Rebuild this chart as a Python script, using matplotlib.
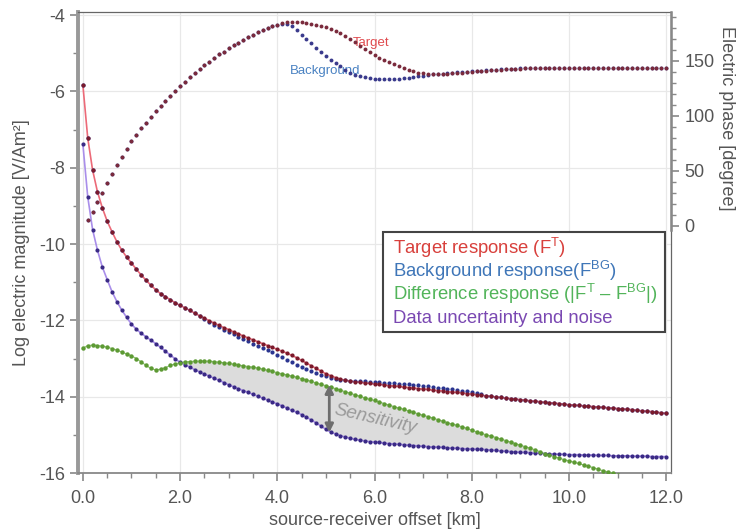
import numpy as np
import matplotlib
matplotlib.use("Agg")
import matplotlib.pyplot as plt
from matplotlib.patches import Rectangle
from matplotlib.ticker import MultipleLocator, FormatStrFormatter

plt.rcParams['font.family'] = ['Liberation Sans', 'DejaVu Sans']
plt.rcParams['mathtext.fontset'] = 'custom'
plt.rcParams['mathtext.rm'] = 'Liberation Sans'
plt.rcParams['mathtext.it'] = 'Liberation Sans:italic'
plt.rcParams['axes.unicode_minus'] = False

# ---------------- data ----------------
offset_km = np.round(np.arange(121) * 0.1, 1)

target_mag = [
    -5.83, -7.22, -8.06, -8.63, -9.05, -9.40, -9.68, -9.94, -10.16, -10.34,
    -10.50, -10.66, -10.81, -10.95, -11.08, -11.20, -11.30, -11.38, -11.46, -11.54,
    -11.61, -11.67, -11.74, -11.81, -11.88, -11.94, -12.01, -12.07, -12.13, -12.19,
    -12.24, -12.30, -12.35, -12.41, -12.46, -12.51, -12.56, -12.61, -12.66, -12.71,
    -12.76, -12.81, -12.86, -12.92, -12.98, -13.05, -13.12, -13.19, -13.26, -13.33,
    -13.40, -13.45, -13.50, -13.54, -13.57, -13.59, -13.61, -13.62, -13.64, -13.65,
    -13.67, -13.68, -13.69, -13.71, -13.72, -13.73, -13.75, -13.76, -13.77, -13.79,
    -13.80, -13.81, -13.83, -13.84, -13.85, -13.87, -13.88, -13.89, -13.90, -13.92,
    -13.93, -13.95, -13.96, -13.98, -13.99, -14.01, -14.02, -14.04, -14.05, -14.06,
    -14.08, -14.09, -14.11, -14.12, -14.13, -14.15, -14.16, -14.17, -14.18, -14.20,
    -14.21, -14.22, -14.23, -14.24, -14.25, -14.26, -14.27, -14.28, -14.29, -14.30,
    -14.31, -14.32, -14.33, -14.34, -14.36, -14.37, -14.38, -14.39, -14.41, -14.42,
    -14.44]

background_mag = [
    -5.83, -7.22, -8.06, -8.63, -9.05, -9.40, -9.68, -9.94, -10.16, -10.34,
    -10.50, -10.66, -10.81, -10.95, -11.08, -11.20, -11.30, -11.38, -11.46, -11.54,
    -11.61, -11.67, -11.74, -11.81, -11.88, -11.96, -12.04, -12.11, -12.18, -12.25,
    -12.31, -12.37, -12.43, -12.49, -12.55, -12.61, -12.67, -12.72, -12.78, -12.84,
    -12.90, -12.96, -13.03, -13.10, -13.16, -13.22, -13.28, -13.33, -13.38, -13.42,
    -13.46, -13.50, -13.53, -13.55, -13.57, -13.58, -13.59, -13.59, -13.60, -13.61,
    -13.62, -13.62, -13.63, -13.64, -13.65, -13.66, -13.67, -13.68, -13.69, -13.70,
    -13.71, -13.73, -13.74, -13.76, -13.77, -13.79, -13.80, -13.82, -13.84, -13.86,
    -13.88, -13.91, -13.94, -13.97, -13.99, -14.01, -14.02, -14.04, -14.05, -14.06,
    -14.08, -14.09, -14.11, -14.12, -14.13, -14.15, -14.16, -14.17, -14.18, -14.20,
    -14.21, -14.22, -14.23, -14.24, -14.25, -14.26, -14.27, -14.28, -14.29, -14.30,
    -14.31, -14.32, -14.33, -14.34, -14.36, -14.37, -14.38, -14.39, -14.41, -14.42,
    -14.44]

noise_mag = [
    -7.38, -8.76, -9.62, -10.16, -10.60, -10.93, -11.25, -11.51, -11.73, -11.92,
    -12.10, -12.23, -12.34, -12.43, -12.52, -12.61, -12.71, -12.81, -12.91, -13.01,
    -13.10, -13.16, -13.23, -13.29, -13.35, -13.41, -13.46, -13.52, -13.57, -13.63,
    -13.69, -13.74, -13.79, -13.84, -13.89, -13.94, -13.99, -14.04, -14.09, -14.14,
    -14.19, -14.24, -14.30, -14.36, -14.41, -14.47, -14.54, -14.61, -14.69, -14.77,
    -14.86, -14.93, -14.98, -15.02, -15.06, -15.09, -15.12, -15.14, -15.16, -15.18,
    -15.19, -15.20, -15.22, -15.23, -15.24, -15.25, -15.26, -15.27, -15.28, -15.29,
    -15.30, -15.31, -15.32, -15.32, -15.33, -15.34, -15.35, -15.35, -15.36, -15.37,
    -15.37, -15.38, -15.38, -15.39, -15.40, -15.41, -15.42, -15.43, -15.44, -15.45,
    -15.46, -15.46, -15.47, -15.48, -15.48, -15.49, -15.50, -15.50, -15.51, -15.51,
    -15.52, -15.52, -15.52, -15.53, -15.53, -15.53, -15.54, -15.54, -15.54, -15.55,
    -15.55, -15.55, -15.55, -15.56, -15.56, -15.56, -15.56, -15.57, -15.57, -15.57,
    -15.57]

difference_mag = [
    -12.73, -12.66, -12.65, -12.66, -12.68, -12.70, -12.74, -12.78, -12.83, -12.88,
    -12.93, -13.00, -13.09, -13.18, -13.26, -13.30, -13.28, -13.24, -13.18, -13.14,
    -13.11, -13.09, -13.08, -13.07, -13.07, -13.07, -13.07, -13.08, -13.10, -13.11,
    -13.13, -13.15, -13.17, -13.19, -13.21, -13.23, -13.25, -13.28, -13.31, -13.34,
    -13.37, -13.40, -13.43, -13.46, -13.49, -13.53, -13.56, -13.60, -13.64, -13.68,
    -13.71, -13.75, -13.79, -13.83, -13.87, -13.91, -13.95, -13.99, -14.03, -14.07,
    -14.10, -14.14, -14.18, -14.22, -14.26, -14.30, -14.33, -14.37, -14.41, -14.45,
    -14.49, -14.52, -14.56, -14.60, -14.64, -14.68, -14.72, -14.75, -14.79, -14.83,
    -14.88, -14.92, -14.96, -15.00, -15.03, -15.07, -15.11, -15.15, -15.19, -15.23,
    -15.27, -15.31, -15.35, -15.39, -15.44, -15.49, -15.53, -15.57, -15.61, -15.65,
    -15.68, -15.72, -15.75, -15.79, -15.82, -15.86, -15.90, -15.94, -15.97, -16.01,
    -16.05]

# phase series start at 0.1 km
target_phase = [
    5.5, 13, 22, 30, 39, 47, 55, 63, 70,
    77, 83, 89, 94, 99.5, 104.5, 109, 114, 118, 122.5,
    127, 131, 135, 139, 142.5, 146.5, 149.5, 152.5, 156, 158.5,
    161.5, 164.5, 166.5, 169, 171.5, 174, 176, 178, 180, 181.5,
    183, 184.2, 185, 185.6, 185.7, 185.4, 184.8, 184, 183, 182,
    180.8, 179, 177, 175, 173, 170, 167, 164, 161, 158,
    155.5, 153, 151, 149, 147, 145, 143.5, 142, 140.5, 139.5,
    138.8, 138.3, 138.1, 138.1, 138.2, 138.4, 138.7, 139, 139.4, 139.8,
    140.2, 140.6, 141, 141.3, 141.6, 141.9, 142.2, 142.4, 142.6, 142.8,
    143.0, 143.2, 143.3, 143.4, 143.5, 143.6, 143.7, 143.7, 143.8, 143.8,
    143.8, 143.8, 143.8, 143.7, 143.7, 143.7, 143.8, 143.8, 143.7, 143.7,
    143.7, 143.8, 143.8, 143.7, 143.7, 143.7, 143.8, 143.7, 143.7, 143.7,
    143.7]

background_phase = [
    5.5, 13, 22, 30, 39, 47, 55, 63, 70,
    77, 83, 89, 94, 99.5, 104.5, 109, 114, 118, 122.5,
    127, 131, 135, 139, 142.5, 146.5, 149.5, 152.5, 156, 158.5,
    161.5, 164.5, 166.5, 169, 171.5, 174, 176, 178, 180, 181.5,
    182.7, 183.4, 183.6, 181.5, 178, 174, 170, 166, 162, 158,
    154.5, 151, 148, 145, 142, 139.5, 137.5, 136, 135, 134.3,
    133.8, 133.6, 133.5, 133.5, 133.6, 133.8, 134.2, 134.8, 135.4, 136,
    136.6, 137.2, 137.7, 138.2, 138.6, 139, 139.3, 139.6, 139.9, 140.2,
    140.5, 140.8, 141.1, 141.4, 141.7, 142, 142.3, 142.6, 142.8, 143.0,
    143.2, 143.3, 143.4, 143.5, 143.6, 143.7, 143.7, 143.8, 143.8, 143.8,
    143.8, 143.8, 143.8, 143.7, 143.7, 143.7, 143.8, 143.8, 143.7, 143.7,
    143.7, 143.8, 143.8, 143.7, 143.7, 143.7, 143.8, 143.7, 143.7, 143.7,
    143.7]

legend_labels = [
    "Target response (F$^{\\mathrm{T}}$)",
    "Background response(F$^{\\mathrm{BG}}$)",
    "Difference response (|F$^{\\mathrm{T}}$ \u2013 F$^{\\mathrm{BG}}$|)",
    "Data uncertainty and noise",
]
legend_colors = ["#d8403c", "#3f76b8", "#52b45a", "#7a48b2"]

# ---------------- figure ----------------
W, H = 739, 529
AX_L, AX_R, AX_T, AX_B = 78, 671, 12, 473
fig = plt.figure(figsize=(W/100, H/100), dpi=100)
ax = fig.add_axes([AX_L/W, 1 - AX_B/H, (AX_R-AX_L)/W, (AX_B-AX_T)/H])
ax2 = ax.twinx()


def ax_xy(px, py):
    """pixel position -> axes fraction"""
    return (px - AX_L) / (AX_R - AX_L), (AX_B - py) / (AX_B - AX_T)


x = np.asarray(offset_km)
x_phase = x[1:]
x_diff = x[:len(difference_mag)]

tm = np.asarray(target_mag)
bm = np.asarray(background_mag)
nm = np.asarray(noise_mag)
dm = np.asarray(difference_mag)

# sensitivity region
nm_diff = nm[:len(dm)]
ax.fill_between(x_diff, dm, nm_diff, where=dm >= nm_diff, interpolate=True,
                color="#dcdcdc", zorder=1, linewidth=0)

# magnitude curves
ax.plot(x, tm, '-', color="#ec6a78", lw=1.2, zorder=3)
ax.plot(x, nm, '-', color="#a98eea", lw=1.2, zorder=3)
ax.plot(x_diff, dm, '-', color="#8cc46c", lw=0.8, zorder=3)
ax.plot(x, bm, 'o', color="#2b3590", ms=3.0, mew=0, zorder=4)
ax.plot(x, tm, 'o', color="#7a1a2c", ms=3.0, mew=0, zorder=5)
ax.plot(x, nm, 'o', color="#3a2a85", ms=3.0, mew=0, zorder=4)
ax.plot(x_diff, dm, 'o', color="#5d9a34", ms=3.2, mew=0, zorder=4)

# phase curves
ax2.plot(x_phase, background_phase, 'o', color="#3a3a8c", ms=2.8, mew=0, zorder=4)
ax2.plot(x_phase, target_phase, 'o', color="#7a2a3c", ms=2.8, mew=0, zorder=5)

# limits
ax.set_xlim(-0.1, 12.1)
ax.set_ylim(-16, -3.92)
ax2.set_ylim(-224.5, 194.5)

# grid
ax.set_axisbelow(True)
ax.grid(True, which='major', color="#e8e8e8", lw=0.9)

# ticks
tick_col = "#555555"
ax.xaxis.set_major_locator(MultipleLocator(2))
ax.xaxis.set_minor_locator(MultipleLocator(0.5))
ax.xaxis.set_major_formatter(FormatStrFormatter('%.1f'))
ax.yaxis.set_major_locator(MultipleLocator(2))
ax.yaxis.set_minor_locator(MultipleLocator(1))
ax.yaxis.set_major_formatter(FormatStrFormatter('%d'))
ax.tick_params(axis='both', which='major', length=6, width=1.2, colors="#888888",
               labelcolor=tick_col, labelsize=13)
ax.tick_params(axis='both', which='minor', length=3.5, width=1.0, colors="#888888")
ax.tick_params(axis='x', pad=6)

ax2.set_yticks([0, 50, 100, 150])
ax2.set_yticks(np.arange(0, 191, 10), minor=True)
ax2.tick_params(axis='y', which='major', length=6, width=1.2, colors="#888888",
                labelcolor=tick_col, labelsize=13)
ax2.tick_params(axis='y', which='minor', length=3.5, width=1.0, colors="#888888")

# spines
for s in ['top', 'right']:
    ax.spines[s].set_color("#666666")
    ax.spines[s].set_linewidth(0.9)
ax.spines['left'].set_color("#999999")
ax.spines['left'].set_linewidth(2.8)
ax.spines['bottom'].set_color("#888888")
ax.spines['bottom'].set_linewidth(1.3)
for s in ['top', 'left', 'bottom']:
    ax2.spines[s].set_visible(False)
ax2.spines['right'].set_color("#888888")
ax2.spines['right'].set_linewidth(1.8)
ax2.spines['right'].set_bounds(-4, 194.5)

# labels
ax.set_xlabel("source-receiver offset [km]", fontsize=13, color=tick_col, labelpad=4)
ax.set_ylabel("Log electric magnitude [V/Am\u00b2]", fontsize=13, color=tick_col, labelpad=6)
ax2.set_ylabel("Electric phase [degree]", fontsize=13, color=tick_col, rotation=270,
               va='center', ha='center')
ax2.yaxis.set_label_coords(*ax_xy(726, 118))

# in-plot annotations
ax.text(5.92, -4.72, "Target", color="#e04a4e", fontsize=9.5, ha='center', va='center', zorder=6)
ax.text(4.99, -5.47, "Background", color="#4a82c2", fontsize=9.5, ha='center', va='center', zorder=6)
ax.annotate("", xy=(5.07, -13.69), xytext=(5.07, -14.94),
            arrowprops=dict(arrowstyle='<|-|>', color="#6e6e6e", lw=2.0,
                            mutation_scale=12, shrinkA=0, shrinkB=0), zorder=6)
ax.text(6.02, -14.6, "Sensitivity", color="#9a9a9a", fontsize=13.5, style='italic',
        rotation=-13, ha='center', va='center', zorder=6)

# legend box (drawn as frame + coloured texts)
bx0, by0 = ax_xy(383, 332)
bx1, by1 = ax_xy(665, 232)
ax2.add_patch(Rectangle((bx0, by0), bx1 - bx0, by1 - by0, transform=ax2.transAxes,
                        facecolor='white', edgecolor="#444444", lw=1.5, zorder=20,
                        clip_on=False))
for lbl, col, py in zip(legend_labels, legend_colors, [254, 277, 300, 323]):
    tx, ty = ax_xy(393, py)
    ax2.text(tx, ty, lbl, color=col, fontsize=13.3, ha='left', va='baseline',
             transform=ax2.transAxes, zorder=21)

fig.savefig("out.png", dpi=100)
